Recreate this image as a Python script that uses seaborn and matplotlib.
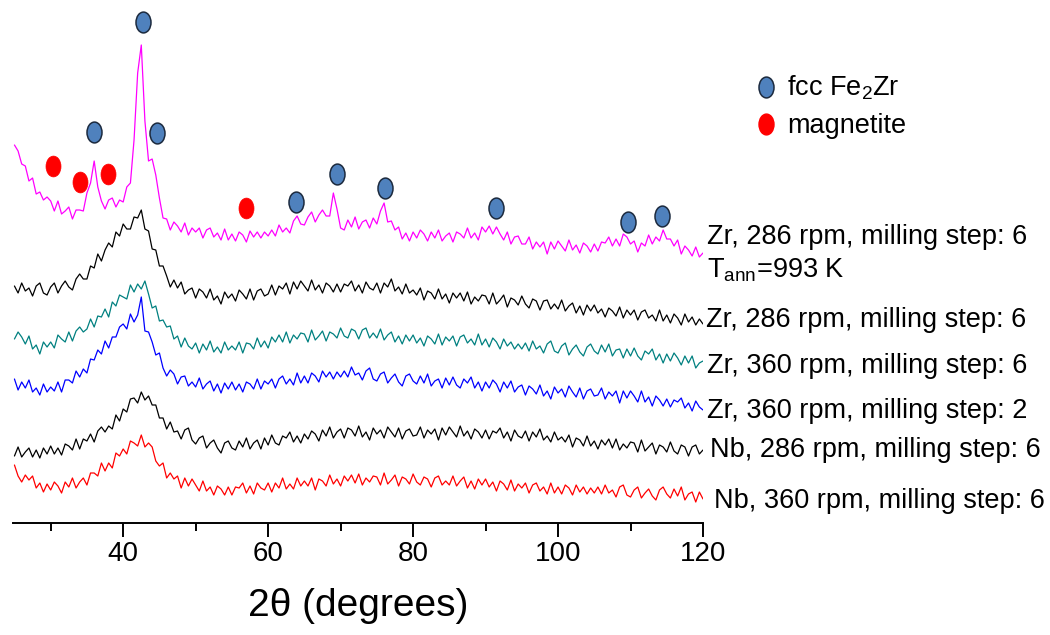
import numpy as np
import pandas as pd
import matplotlib
matplotlib.use('Agg')
import matplotlib.pyplot as plt
from matplotlib.path import Path
from matplotlib.transforms import Affine2D
from matplotlib.lines import Line2D
import seaborn as sns

# 2theta grid (degrees), 0.5 deg step
two_theta = np.arange(25.0, 120.01, 0.5)

# stacked intensities (offset included), top curve first
zr286_ann = [
    376, 370, 357, 355, 340, 343, 327, 329, 321, 324,
    320, 310, 320, 307, 310, 314, 302, 311, 311, 310,
    328, 338, 360, 334, 320, 312, 321, 323, 314, 321,
    319, 334, 338, 381, 448, 476, 400, 360, 362, 346,
    323, 303, 302, 291, 299, 295, 289, 298, 286, 293,
    289, 293, 283, 291, 293, 284, 288, 281, 292, 281,
    287, 280, 289, 286, 279, 290, 284, 289, 283, 289,
    285, 291, 285, 296, 289, 293, 288, 300, 305, 297,
    296, 304, 309, 299, 306, 311, 305, 305, 328, 312,
    293, 291, 301, 294, 304, 292, 299, 301, 293, 303,
    297, 310, 318, 299, 300, 291, 294, 282, 288, 280,
    289, 283, 291, 287, 280, 289, 283, 291, 280, 285,
    288, 279, 289, 287, 283, 293, 283, 288, 281, 294,
    289, 295, 287, 294, 287, 281, 289, 277, 284, 285,
    277, 277, 284, 272, 279, 274, 279, 267, 279, 272,
    280, 275, 270, 281, 271, 276, 268, 278, 275, 269,
    277, 270, 279, 278, 284, 275, 282, 275, 287, 284,
    277, 280, 269, 278, 275, 286, 277, 284, 280, 291,
    282, 282, 275, 281, 267, 275, 271, 265, 274, 264,
    268]
zr286 = [
    235, 228, 238, 230, 233, 225, 235, 238, 228, 226,
    234, 238, 228, 235, 240, 234, 231, 242, 247, 242,
    242, 255, 253, 267, 260, 271, 278, 274, 289, 285,
    297, 292, 292, 304, 303, 311, 292, 290, 272, 271,
    255, 255, 245, 234, 241, 233, 239, 227, 231, 233,
    223, 232, 229, 223, 232, 221, 225, 217, 229, 223,
    227, 220, 231, 227, 222, 232, 221, 230, 232, 225,
    227, 236, 226, 235, 232, 238, 227, 239, 232, 240,
    235, 230, 241, 231, 236, 228, 238, 235, 229, 237,
    229, 237, 235, 240, 230, 236, 228, 239, 233, 231,
    238, 228, 238, 234, 242, 230, 234, 227, 237, 228,
    231, 226, 233, 221, 230, 228, 222, 232, 222, 227,
    218, 228, 223, 228, 220, 229, 217, 224, 220, 226,
    225, 217, 228, 217, 221, 226, 214, 223, 221, 216,
    225, 217, 213, 222, 220, 211, 220, 221, 212, 217,
    212, 221, 210, 215, 218, 208, 215, 206, 216, 210,
    216, 208, 212, 204, 213, 210, 205, 214, 203, 211,
    206, 211, 201, 209, 211, 203, 206, 200, 211, 200,
    206, 198, 207, 203, 196, 207, 199, 204, 196, 202,
    197]
zr360 = [
    182, 189, 184, 177, 185, 172, 176, 167, 179, 174,
    179, 173, 186, 182, 179, 189, 180, 190, 194, 189,
    192, 202, 194, 205, 204, 212, 204, 219, 215, 226,
    224, 222, 236, 229, 237, 232, 240, 227, 213, 215,
    200, 201, 194, 195, 182, 185, 174, 183, 175, 172,
    178, 168, 177, 171, 180, 169, 174, 168, 179, 171,
    175, 171, 179, 168, 178, 177, 172, 183, 174, 180,
    173, 184, 179, 186, 179, 189, 178, 186, 182, 188,
    187, 179, 191, 181, 185, 190, 180, 189, 187, 183,
    193, 185, 183, 192, 190, 182, 191, 193, 183, 188,
    183, 192, 181, 186, 189, 179, 185, 177, 186, 180,
    186, 178, 183, 175, 185, 182, 177, 187, 176, 184,
    180, 185, 175, 184, 186, 178, 182, 176, 187, 176,
    182, 174, 183, 179, 172, 182, 175, 179, 172, 177,
    172, 178, 170, 180, 172, 175, 168, 177, 180, 170,
    168, 175, 178, 166, 172, 176, 169, 165, 174, 177,
    170, 167, 176, 169, 177, 165, 171, 172, 163, 172,
    165, 173, 165, 161, 170, 167, 172, 161, 167, 158,
    167, 160, 168, 163, 156, 165, 158, 165, 153, 158,
    160]
zr360_s2 = [
    142, 131, 139, 133, 141, 129, 133, 126, 137, 129,
    134, 130, 139, 129, 141, 141, 138, 150, 144, 152,
    148, 162, 161, 171, 167, 180, 173, 184, 184, 194,
    197, 192, 207, 199, 206, 224, 190, 189, 179, 166,
    168, 153, 145, 151, 147, 137, 144, 145, 135, 139,
    134, 143, 132, 137, 140, 130, 137, 128, 138, 132,
    139, 131, 137, 129, 139, 137, 132, 142, 132, 140,
    137, 142, 133, 142, 145, 137, 142, 136, 148, 138,
    145, 138, 148, 145, 139, 150, 144, 149, 142, 149,
    144, 150, 144, 154, 146, 148, 141, 150, 153, 142,
    140, 147, 149, 138, 143, 147, 139, 135, 145, 147,
    140, 137, 145, 138, 147, 135, 140, 142, 133, 143,
    136, 144, 136, 133, 142, 138, 144, 133, 139, 130,
    139, 133, 141, 137, 129, 139, 133, 140, 129, 134,
    136, 126, 135, 132, 127, 136, 125, 130, 122, 134,
    128, 132, 124, 135, 129, 124, 133, 122, 130, 132,
    125, 126, 133, 122, 129, 125, 130, 118, 130, 123,
    130, 125, 119, 130, 119, 124, 115, 125, 121, 115,
    122, 114, 121, 119, 123, 113, 118, 110, 120, 114,
    111]
nb286 = [
    65, 74, 64, 69, 73, 64, 71, 63, 73, 67,
    75, 67, 73, 66, 77, 75, 71, 82, 72, 82,
    80, 87, 79, 90, 94, 89, 95, 92, 106, 100,
    112, 109, 122, 123, 118, 129, 121, 125, 116, 116,
    103, 103, 92, 99, 89, 90, 82, 91, 93, 81,
    77, 83, 85, 73, 78, 81, 73, 68, 78, 80,
    73, 71, 80, 74, 83, 72, 78, 81, 72, 83,
    76, 86, 78, 76, 85, 83, 89, 79, 85, 78,
    87, 82, 90, 87, 80, 91, 85, 94, 83, 89,
    92, 83, 93, 91, 85, 95, 84, 89, 81, 93,
    87, 91, 83, 94, 89, 84, 93, 82, 90, 92,
    85, 86, 94, 83, 91, 87, 92, 81, 93, 86,
    94, 89, 84, 95, 85, 90, 82, 92, 89, 83,
    91, 82, 90, 88, 93, 83, 89, 80, 91, 85,
    83, 90, 80, 89, 84, 92, 81, 85, 79, 89,
    81, 84, 79, 86, 74, 83, 81, 75, 85, 75,
    80, 72, 81, 76, 82, 73, 82, 71, 77, 73,
    79, 78, 69, 81, 70, 74, 78, 67, 76, 74,
    69, 79, 70, 67, 76, 74, 65, 74, 76, 67,
    71]
nb360 = [
    56, 45, 39, 46, 41, 45, 33, 38, 29, 37,
    31, 39, 35, 28, 39, 34, 43, 33, 39, 43,
    36, 48, 48, 45, 58, 50, 58, 53, 68, 65,
    72, 67, 80, 78, 75, 86, 74, 78, 74, 60,
    55, 58, 43, 48, 42, 45, 33, 43, 35, 42,
    36, 30, 40, 30, 34, 26, 35, 32, 26, 34,
    26, 34, 33, 38, 28, 35, 27, 38, 33, 31,
    38, 29, 38, 33, 43, 32, 37, 32, 43, 35,
    40, 35, 43, 31, 42, 40, 35, 46, 37, 42,
    35, 45, 40, 46, 38, 47, 36, 43, 39, 45,
    44, 36, 48, 37, 41, 46, 35, 44, 42, 37,
    47, 39, 36, 44, 42, 34, 43, 45, 36, 40,
    36, 45, 35, 40, 44, 33, 40, 32, 42, 36,
    42, 34, 39, 30, 40, 37, 31, 41, 30, 37,
    33, 38, 28, 36, 38, 30, 34, 27, 38, 28,
    34, 27, 36, 33, 26, 36, 29, 34, 27, 33,
    28, 34, 27, 36, 28, 31, 24, 34, 36, 26,
    24, 31, 34, 23, 28, 32, 25, 21, 31, 34,
    27, 23, 32, 25, 34, 21, 27, 29, 19, 29,
    22]

sample_ids = ['zr286_ann', 'zr286', 'zr360', 'zr360_s2', 'nb286', 'nb360']
series = [zr286_ann, zr286, zr360, zr360_s2, nb286, nb360]
colors = ['#FF00FF', '#000000', '#008080', '#0000FF', '#000000', '#FF0000']
labels = ['Zr, 286 rpm, milling step: 6\nT$_{\\mathrm{ann}}$=993 K',
          'Zr, 286 rpm, milling step: 6',
          'Zr, 360 rpm, milling step: 6',
          'Zr, 360 rpm, milling step: 2',
          'Nb, 286 rpm, milling step: 6',
          'Nb, 360 rpm, milling step: 6']

# peak markers
fcc_pos = [36.0, 42.8, 44.7, 63.9, 69.5, 76.1, 91.4, 109.7, 114.3]
fcc_h = [389, 499, 388, 319, 347, 333, 313, 299, 305]
mag_pos = [30.3, 34.1, 37.9, 57.0]
mag_h = [355, 339, 347, 313]

frames = []
for sid, vals in zip(sample_ids, series):
    frames.append(pd.DataFrame({'two_theta': two_theta, 'I': vals, 'sample': sid}))
df = pd.concat(frames, ignore_index=True)

sns.set_theme(style='white')
plt.rcParams['font.family'] = ['Liberation Sans', 'DejaVu Sans']
plt.rcParams['mathtext.fontset'] = 'custom'
plt.rcParams['mathtext.rm'] = 'Liberation Sans'
plt.rcParams['mathtext.it'] = 'Liberation Sans:italic'
plt.rcParams['text.color'] = 'black'
plt.rcParams['xtick.color'] = 'black'
plt.rcParams['axes.labelcolor'] = 'black'

fig = plt.figure(figsize=(10.5, 6.35), dpi=100)
ax = fig.add_axes([13/1050, 112/635, 690/1050, 523/635])

sns.lineplot(data=df, x='two_theta', y='I', hue='sample',
             palette=dict(zip(sample_ids, colors)), linewidth=0.9,
             estimator=None, sort=False, legend=False, ax=ax)

ell = Path.unit_circle().transformed(Affine2D().scale(0.72, 1.0))
sns.scatterplot(x=fcc_pos, y=fcc_h, marker=ell, s=225, color='#4F81BD',
                edgecolor='#1C2A3E', linewidth=1.1, ax=ax, zorder=5, clip_on=False)
sns.scatterplot(x=mag_pos, y=mag_h, marker=ell, s=225, color='#FF0000',
                edgecolor='#FF0000', linewidth=0.5, ax=ax, zorder=5, clip_on=False)

ax.set_xlim(24.8, 120)
ax.set_ylim(-2, 521)
ax.set_yticks([])
ax.set_ylabel('')
ax.set_xticks([40, 60, 80, 100, 120])
ax.set_xticks([30, 50, 70, 90, 110], minor=True)
ax.tick_params(axis='x', which='both', bottom=True, direction='out', width=1.4,
               color='black', labelcolor='black', labelsize=20, pad=3)
ax.tick_params(axis='x', which='major', length=10)
ax.tick_params(axis='x', which='minor', length=6)
for side in ['left', 'right', 'top']:
    ax.spines[side].set_visible(False)
ax.spines['bottom'].set_color('black')
ax.spines['bottom'].set_linewidth(1.4)
ax.set_xlabel('2θ (degrees)', fontsize=28, labelpad=15)

# curve labels on the right
label_x = [120.6, 120.4, 120.6, 120.6, 121.0, 121.5]
label_y = [244, 194, 148, 103, 64, 13]
for txt, lx, ly in zip(labels, label_x, label_y):
    ax.text(lx, ly, txt, fontsize=19.5, ha='left', va='baseline',
            clip_on=False, linespacing=1.28)

handles = [Line2D([], [], ls='none', marker=ell, markersize=15,
                  markerfacecolor='#4F81BD', markeredgecolor='#1C2A3E', markeredgewidth=1.1),
           Line2D([], [], ls='none', marker=ell, markersize=15,
                  markerfacecolor='#FF0000', markeredgecolor='#FF0000')]
fig.legend(handles, ['fcc Fe$_2$Zr', 'magnetite'], loc='upper left',
           bbox_to_anchor=(752/1050, 1 - 74/635), frameon=False, fontsize=19.5,
           handletextpad=0.3, labelspacing=0.39, borderpad=0, borderaxespad=0,
           handlelength=1.0)

fig.savefig('out.png', dpi=100)
